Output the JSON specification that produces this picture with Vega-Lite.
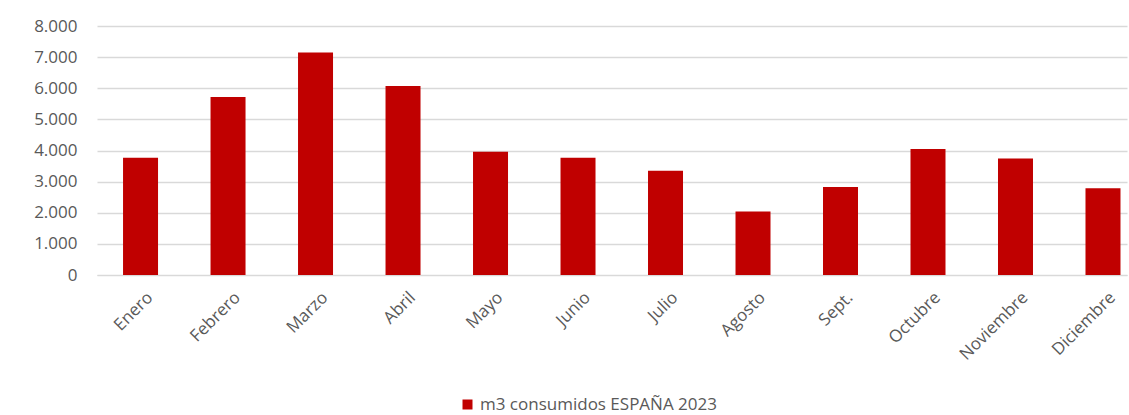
{
  "$schema": "https://vega.github.io/schema/vega-lite/v6.json",
  "autosize": {"type": "none"},
  "width": 1030,
  "height": 249,
  "padding": {"left": 97, "top": 26, "right": 2, "bottom": 140},
  "background": "white",
  "config": {"view": {"stroke": null}, "font": "Open Sans"},
  "data": {
    "values": [
      {"mes": "Enero", "m3": 3770, "serie": "m3 consumidos ESPAÑA 2023"},
      {"mes": "Febrero", "m3": 5720, "serie": "m3 consumidos ESPAÑA 2023"},
      {"mes": "Marzo", "m3": 7150, "serie": "m3 consumidos ESPAÑA 2023"},
      {"mes": "Abril", "m3": 6070, "serie": "m3 consumidos ESPAÑA 2023"},
      {"mes": "Mayo", "m3": 3960, "serie": "m3 consumidos ESPAÑA 2023"},
      {"mes": "Junio", "m3": 3770, "serie": "m3 consumidos ESPAÑA 2023"},
      {"mes": "Julio", "m3": 3350, "serie": "m3 consumidos ESPAÑA 2023"},
      {"mes": "Agosto", "m3": 2040, "serie": "m3 consumidos ESPAÑA 2023"},
      {"mes": "Sept.", "m3": 2830, "serie": "m3 consumidos ESPAÑA 2023"},
      {"mes": "Octubre", "m3": 4050, "serie": "m3 consumidos ESPAÑA 2023"},
      {"mes": "Noviembre", "m3": 3740, "serie": "m3 consumidos ESPAÑA 2023"},
      {"mes": "Diciembre", "m3": 2790, "serie": "m3 consumidos ESPAÑA 2023"}
    ]
  },
  "mark": {"type": "bar"},
  "encoding": {
    "x": {
      "field": "mes",
      "type": "nominal",
      "sort": null,
      "scale": {"paddingInner": 0.6, "paddingOuter": 0.186, "align": 0.8},
      "axis": {
        "title": null,
        "labelAngle": -45,
        "labelFontSize": 17,
        "labelColor": "#595959",
        "domain": true,
        "domainColor": "#D9D9D9",
        "ticks": false,
        "labelPadding": 14,
        "labelOffset": 4,
        "grid": false
      }
    },
    "y": {
      "field": "m3",
      "type": "quantitative",
      "scale": {"domain": [0, 8000], "nice": false},
      "axis": {
        "title": null,
        "values": [0, 1000, 2000, 3000, 4000, 5000, 6000, 7000, 8000],
        "labelExpr": "replace(format(datum.value, ','), ',', '.')",
        "labelFontSize": 17,
        "labelColor": "#595959",
        "domain": false,
        "ticks": false,
        "labelPadding": 20,
        "grid": true,
        "gridColor": "#D9D9D9",
        "gridWidth": 1.5
      }
    },
    "color": {
      "field": "serie",
      "type": "nominal",
      "scale": {"range": ["#C00000"]},
      "legend": {
        "title": null,
        "orient": "none",
        "legendX": 362,
        "legendY": 370,
        "symbolType": "square",
        "symbolSize": 100,
        "labelFontSize": 17,
        "labelLimit": 0,
        "labelColor": "#595959"
      }
    }
  }
}
